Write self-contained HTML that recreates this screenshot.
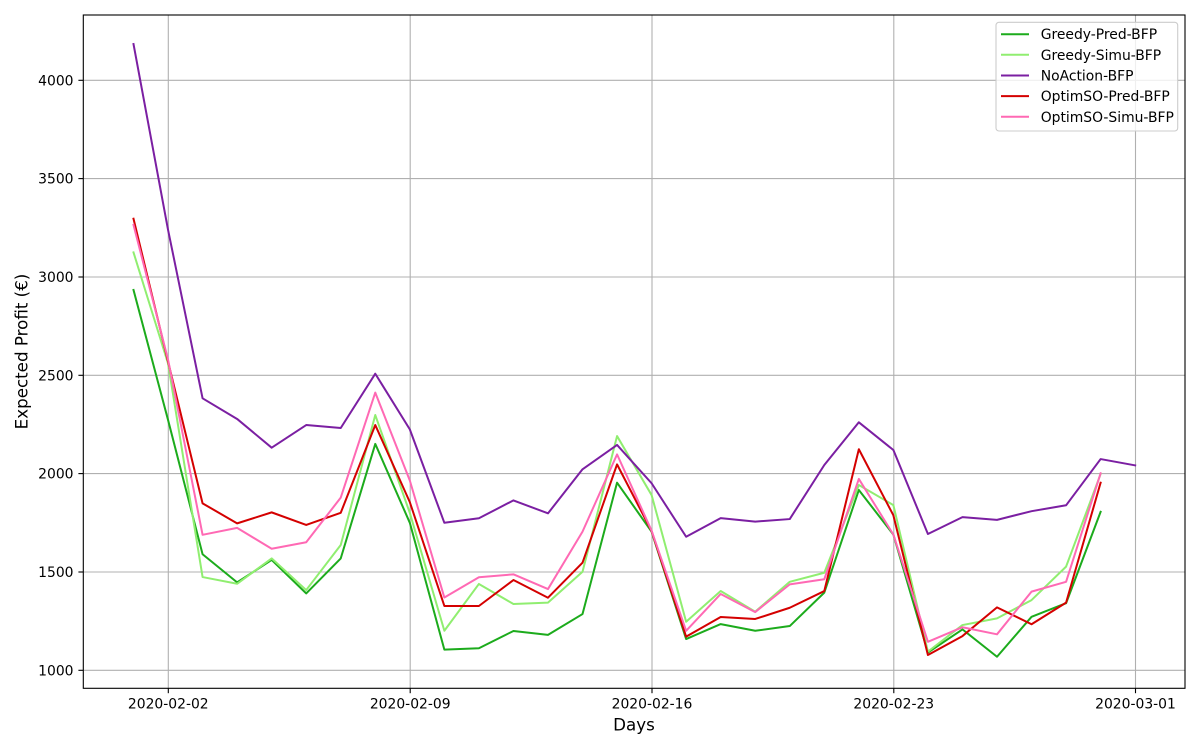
<!DOCTYPE html>
<html>
<head>
<meta charset="utf-8">
<style>
  html,body{margin:0;padding:0;background:#fff;}
  svg{display:block;}
  text{font-family:"DejaVu Sans","Liberation Sans",sans-serif;fill:#000;}
  .tick{font-size:13.9px;}
  .lab{font-size:16.7px;}
  .ser{fill:none;stroke-width:2;stroke-linejoin:round;stroke-linecap:square;}
</style>
</head>
<body>
<svg width="1200" height="750" viewBox="0 0 1200 750" xmlns="http://www.w3.org/2000/svg">
  <rect x="0" y="0" width="1200" height="750" fill="#fff"/>
  <!-- grid -->
  <g stroke="#b0b0b0" stroke-width="1.1">
    <line x1="168.3" y1="15" x2="168.3" y2="688.3"/>
    <line x1="410.2" y1="15" x2="410.2" y2="688.3"/>
    <line x1="652" y1="15" x2="652" y2="688.3"/>
    <line x1="893.8" y1="15" x2="893.8" y2="688.3"/>
    <line x1="1135.5" y1="15" x2="1135.5" y2="688.3"/>
    <line x1="83.3" y1="670.3" x2="1185" y2="670.3"/>
    <line x1="83.3" y1="572" x2="1185" y2="572"/>
    <line x1="83.3" y1="473.6" x2="1185" y2="473.6"/>
    <line x1="83.3" y1="375.3" x2="1185" y2="375.3"/>
    <line x1="83.3" y1="277" x2="1185" y2="277"/>
    <line x1="83.3" y1="178.6" x2="1185" y2="178.6"/>
    <line x1="83.3" y1="80.3" x2="1185" y2="80.3"/>
  </g>
  <!-- series -->
  <g transform="matrix(34.54 0 0 -0.19667 133.5 866.97)">
    <polyline class="ser" vector-effect="non-scaling-stroke" stroke="#1cab1c" points="0,2934 1,2273 2,1590 3,1447 4,1561 5,1391 6,1569 7,2151 8,1750 9,1105 10,1112 11,1200 12,1180 13,1286 14,1954 15,1705 16,1159 17,1235 18,1201 19,1225 20,1395 21,1917 22,1690 23,1090 24,1208 25,1069 26,1272 27,1341 28,1806"/>
    <polyline class="ser" vector-effect="non-scaling-stroke" stroke="#90ee70" points="0,3125 1,2560 2,1474 3,1440 4,1569 5,1408 6,1637 7,2298 8,1800 9,1201 10,1439 11,1337 12,1344 13,1501 14,2191 15,1891 16,1247 17,1403 18,1298 19,1450 20,1496 21,1942 22,1840 23,1095 24,1230 25,1264 26,1357 27,1527 28,1998"/>
    <polyline class="ser" vector-effect="non-scaling-stroke" stroke="#7b1fa2" points="0,4184 1,3240 2,2383 3,2278 4,2132 5,2247 6,2232 7,2508 8,2225 9,1750 10,1773 11,1864 12,1798 13,2022 14,2146 15,1951 16,1679 17,1774 18,1756 19,1769 20,2044 21,2261 22,2120 23,1693 24,1779 25,1765 26,1809 27,1839 28,2074 29,2042"/>
    <polyline class="ser" vector-effect="non-scaling-stroke" stroke="#d40000" points="0,3296 1,2570 2,1849 3,1747 4,1803 5,1739 6,1801 7,2247 8,1855 9,1327 10,1327 11,1459 12,1369 13,1547 14,2047 15,1708 16,1171 17,1271 18,1261 19,1318 20,1403 21,2124 22,1788 23,1078 24,1174 25,1320 26,1234 27,1344 28,1954"/>
    <polyline class="ser" vector-effect="non-scaling-stroke" stroke="#ff69b4" points="0,3265 1,2580 2,1689 3,1724 4,1618 5,1651 6,1878 7,2412 8,1965 9,1370 10,1473 11,1488 12,1413 13,1705 14,2098 15,1710 16,1201 17,1388 18,1296 19,1437 20,1463 21,1973 22,1690 23,1145 24,1219 25,1183 26,1400 27,1450 28,2002"/>
  </g>
  <!-- frame -->
  <rect x="83.3" y="15" width="1101.7" height="673.3" fill="none" stroke="#000" stroke-width="1.1"/>
  <!-- ticks -->
  <g stroke="#000" stroke-width="1.1">
    <line x1="78.4" y1="670.3" x2="83.3" y2="670.3"/>
    <line x1="78.4" y1="572" x2="83.3" y2="572"/>
    <line x1="78.4" y1="473.6" x2="83.3" y2="473.6"/>
    <line x1="78.4" y1="375.3" x2="83.3" y2="375.3"/>
    <line x1="78.4" y1="277" x2="83.3" y2="277"/>
    <line x1="78.4" y1="178.6" x2="83.3" y2="178.6"/>
    <line x1="78.4" y1="80.3" x2="83.3" y2="80.3"/>
    <line x1="168.3" y1="688.3" x2="168.3" y2="693.2"/>
    <line x1="410.2" y1="688.3" x2="410.2" y2="693.2"/>
    <line x1="652" y1="688.3" x2="652" y2="693.2"/>
    <line x1="893.8" y1="688.3" x2="893.8" y2="693.2"/>
    <line x1="1135.5" y1="688.3" x2="1135.5" y2="693.2"/>
  </g>
  <g class="tick" text-anchor="end">
    <text x="73.5" y="675.3">1000</text>
    <text x="73.5" y="577">1500</text>
    <text x="73.5" y="478.6">2000</text>
    <text x="73.5" y="380.3">2500</text>
    <text x="73.5" y="282">3000</text>
    <text x="73.5" y="183.6">3500</text>
    <text x="73.5" y="85.3">4000</text>
  </g>
  <g class="tick" text-anchor="middle">
    <text x="168.3" y="708.5">2020-02-02</text>
    <text x="410.2" y="708.5">2020-02-09</text>
    <text x="652" y="708.5">2020-02-16</text>
    <text x="893.8" y="708.5">2020-02-23</text>
    <text x="1135.5" y="708.5">2020-03-01</text>
  </g>
  <text class="lab" x="634" y="730.5" text-anchor="middle">Days</text>
  <text class="lab" transform="translate(27.5,351.5) rotate(-90)" text-anchor="middle">Expected Profit (€)</text>
  <!-- legend -->
  <rect x="996" y="22.3" width="181.7" height="108.7" rx="3" ry="3" fill="#fff" fill-opacity="0.8" stroke="#cccccc" stroke-width="1.1"/>
  <g stroke-width="2">
    <line x1="1001" y1="34.2" x2="1029" y2="34.2" stroke="#1cab1c"/>
    <line x1="1001" y1="54.8" x2="1029" y2="54.8" stroke="#90ee70"/>
    <line x1="1001" y1="75.5" x2="1029" y2="75.5" stroke="#7b1fa2"/>
    <line x1="1001" y1="96.1" x2="1029" y2="96.1" stroke="#d40000"/>
    <line x1="1001" y1="116.8" x2="1029" y2="116.8" stroke="#ff69b4"/>
  </g>
  <g class="tick">
    <text x="1040.7" y="39.2">Greedy-Pred-BFP</text>
    <text x="1040.7" y="59.8">Greedy-Simu-BFP</text>
    <text x="1040.7" y="80.5">NoAction-BFP</text>
    <text x="1040.7" y="101.1">OptimSO-Pred-BFP</text>
    <text x="1040.7" y="121.8">OptimSO-Simu-BFP</text>
  </g>
</svg>
</body>
</html>
